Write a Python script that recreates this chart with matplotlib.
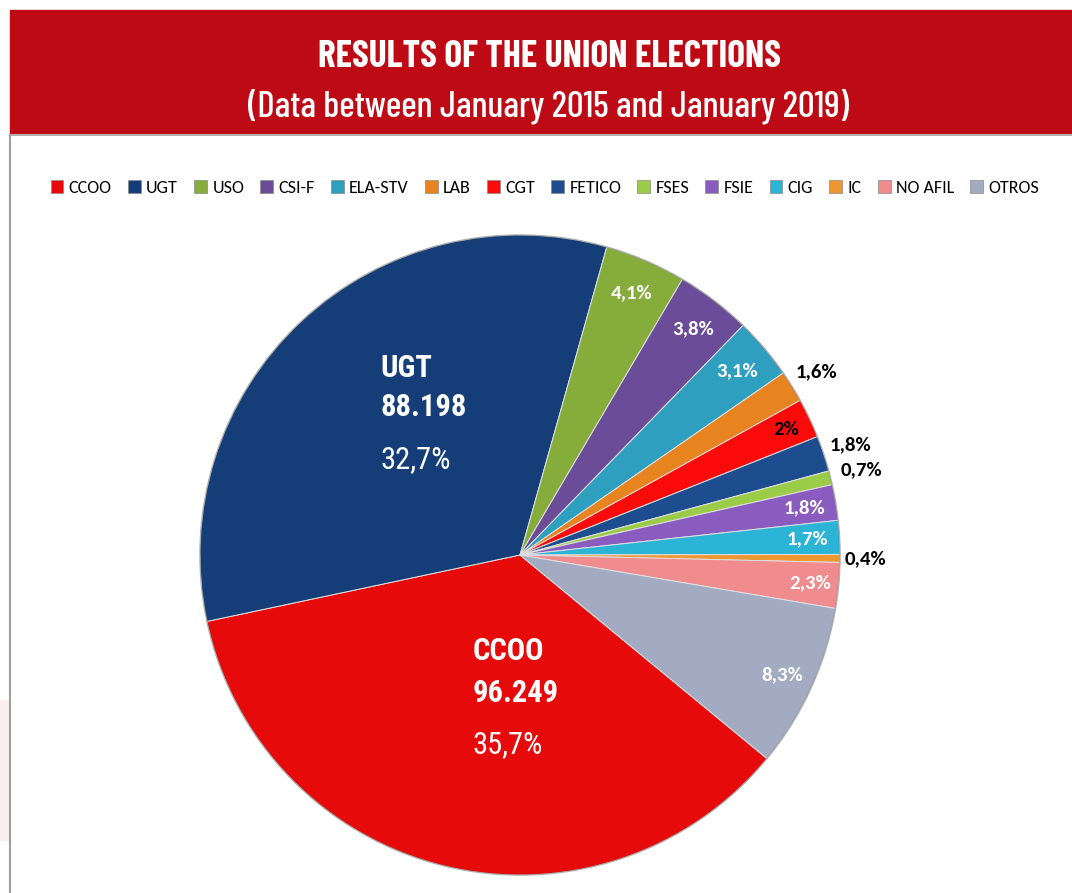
import matplotlib
matplotlib.use("Agg")
import matplotlib.pyplot as plt
from matplotlib.patches import Rectangle, Circle
import numpy as np

# Data
unions = ['CCOO', 'UGT', 'USO', 'CSI-F', 'ELA-STV', 'LAB', 'CGT', 'FETICO',
          'FSES', 'FSIE', 'CIG', 'IC', 'NO AFIL', 'OTROS']
shares = [35.7, 32.7, 4.1, 3.8, 3.1, 1.6, 2.0, 1.8, 0.7, 1.8, 1.7, 0.4, 2.3, 8.3]
share_labels = ['35,7%', '32,7%', '4,1%', '3,8%', '3,1%', '1,6%', '2%', '1,8%',
                '0,7%', '1,8%', '1,7%', '0,4%', '2,3%', '8,3%']
delegates = ['96.249', '88.198']

colors = ['#e60a0a', '#153d77', '#86ad3c', '#6a4c98', '#2f9fbf', '#e8841f',
          '#fb0a0a', '#1d4d8e', '#9bcc47', '#8a5cbf', '#2cb4d6', '#ee9630',
          '#f08c8e', '#a3abc3']
# small slices: label distance (fraction of radius) and text colour
label_dist = [0, 0, 0.89, 0.89, 0.89, 1.09, 0.92, 1.09, 1.10, 0.9, 0.9, 1.08, 0.91, 0.9]
label_col = ['w', 'w', 'w', 'w', 'w', 'k', 'k', 'k', 'k', 'w', 'w', 'k', 'w', 'w']

title_font = ['Barlow Condensed', 'Roboto Condensed', 'DejaVu Sans']
narrow = ['Roboto Condensed', 'DejaVu Sans']
body = ['Carlito', 'Lato', 'DejaVu Sans']

fig = plt.figure(figsize=(10.72, 8.93), dpi=100)

# header band
fig.patches.append(Rectangle((10 / 1072, 1 - 133 / 893), 1, 123 / 893,
                             transform=fig.transFigure, color='#be0a14', zorder=0))
fig.lines.append(plt.Line2D([10 / 1072, 1], [1 - 135 / 893] * 2, transform=fig.transFigure,
                            color='#b0b0b0', lw=1.5))
fig.lines.append(plt.Line2D([10 / 1072] * 2, [0, 1 - 135 / 893], transform=fig.transFigure,
                            color='#a0a0a0', lw=1.5))
fig.patches.append(Rectangle((0, 1 - 840 / 893), 9 / 1072, 140 / 893,
                             transform=fig.transFigure, color='#fbeeee', zorder=0))

fig.text(550 / 1072, 1 - 67 / 893, 'RESULTS OF THE UNION ELECTIONS', ha='center', va='baseline',
         color='white', fontsize=27, fontweight='bold', family=title_font)
fig.text(549 / 1072, 1 - 117 / 893, '(Data between January 2015 and January 2019)',
         ha='center', va='baseline', color='white', fontsize=26.5, fontweight='medium',
         family=title_font)

# pie axes: centre (520, 555) px, radius 320 px
R = 320
cx, cy = 520, 555
half = 1.25 * R
ax = fig.add_axes([(cx - half) / 1072, (893 - cy - half) / 893, 2 * half / 1072, 2 * half / 893])
ax.set_xlim(-1.25, 1.25)
ax.set_ylim(-1.25, 1.25)
ax.axis('off')

wedges, _ = ax.pie(shares, colors=colors, startangle=-39.5, counterclock=False,
                   radius=1, wedgeprops=dict(edgecolor='#e0e0e0', linewidth=0.7))
ax.add_patch(Circle((0, 0), 1, fill=False, edgecolor='#555555', lw=1.2, alpha=0.35))

# small slice labels
for i, w in enumerate(wedges):
    if i < 2:
        continue
    ang = np.deg2rad((w.theta1 + w.theta2) / 2)
    d = label_dist[i]
    ax.text(d * np.cos(ang), d * np.sin(ang), share_labels[i], ha='center', va='center',
            color=label_col[i], fontsize=15, fontweight='bold', family=body)

# big labels for CCOO and UGT (baselines in px)
big = [(473, [660, 702, 753]), (380, [377, 416, 468])]
for i, (x0, ys) in enumerate(big):
    xs = (x0 - cx) / R
    ax.text(xs, (cy - ys[0]) / R, unions[i], ha='left', va='baseline', color='white',
            fontsize=22, fontweight='bold', family=narrow)
    ax.text(xs, (cy - ys[1]) / R, delegates[i], ha='left', va='baseline', color='white',
            fontsize=22, fontweight='bold', family=narrow)
    ax.text(xs, (cy - ys[2]) / R, share_labels[i], ha='left', va='baseline', color='white',
            fontsize=22, family=narrow)

# legend
handles = [Rectangle((0, 0), 1, 1, facecolor=c, edgecolor='#888888', lw=0.5) for c in colors]
fig.legend(handles, unions, loc='center', bbox_to_anchor=(545 / 1072, 1 - 188 / 893),
           ncol=14, frameon=False, handlelength=0.7, handleheight=0.7, handletextpad=0.3,
           columnspacing=0.9, prop={'family': body, 'size': 13})

fig.savefig('out.png', dpi=100)
